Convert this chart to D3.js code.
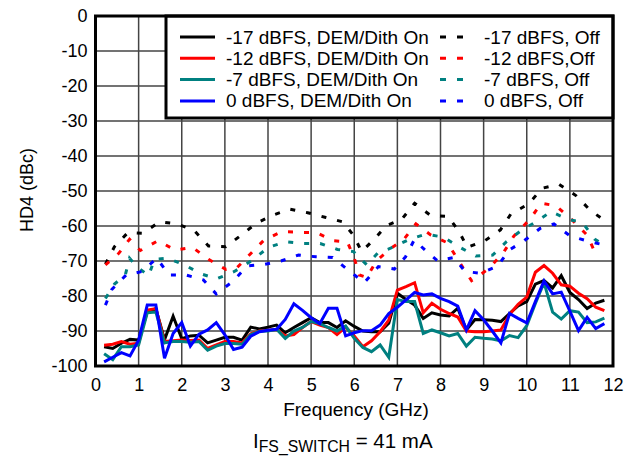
<!DOCTYPE html>
<html><head><meta charset="utf-8">
<script src="https://cdn.jsdelivr.net/npm/d3@7"></script>
<style>body{margin:0;background:#fff}svg{display:block}text{font-family:"Liberation Sans",Arial,sans-serif;fill:#000}</style>
</head><body><svg id="c" width="641" height="466"></svg>
<script>
const freqOn = [0.2,0.4,0.6,0.8,1.0,1.2,1.4,1.6,1.8,2.0,2.2,2.4,2.6,2.8,3.0,3.2,3.4,3.6,3.8,4.0,4.2,4.4,4.6,4.8,5.0,5.2,5.4,5.6,5.8,6.0,6.2,6.4,6.6,6.8,7.0,7.2,7.4,7.6,7.8,8.0,8.2,8.4,8.6,8.8,9.0,9.2,9.4,9.6,9.8,10.0,10.2,10.4,10.6,10.8,11.0,11.2,11.4,11.6,11.8];
const on17 = [-94.5,-95,-93.5,-92.4,-92.6,-84.5,-83.6,-92.5,-85.8,-92.2,-91.4,-91.2,-93.4,-92.6,-91.8,-91.8,-92.6,-88.9,-89.4,-88.9,-88.3,-90.5,-89,-87.6,-86.2,-87.6,-87.6,-89,-87.1,-88.7,-90,-90.2,-90.2,-87.8,-79.2,-81,-82.6,-86.4,-84.8,-85.4,-85.7,-83.5,-89.7,-86.7,-86.8,-86.9,-87.3,-85,-82.8,-81.6,-76.6,-75.6,-77.7,-74.2,-79,-81,-83.6,-82,-81.2];
const on12 = [-94.1,-93.8,-93,-93.8,-93.5,-84,-83.6,-93,-92.8,-92.6,-92.7,-92.6,-95,-94,-93,-93,-93.4,-90.8,-90,-89.8,-89.5,-91.4,-91,-89,-87.3,-88.3,-89,-91,-88.9,-91.4,-94.5,-92.8,-90.2,-86.9,-78.3,-77.3,-76.2,-84.8,-82.1,-83.8,-85,-86,-90,-90.2,-90.2,-90,-89.7,-85.3,-82.4,-80.3,-73.2,-71.3,-73.5,-76.8,-77.2,-79.2,-80.8,-83.2,-84.2];
const on7 = [-96.5,-98.2,-94.5,-94.5,-94,-84.8,-84.6,-93.4,-93,-93,-93.2,-93,-95.5,-94.3,-93.6,-93.6,-93.8,-91,-90.1,-90,-89.5,-92.1,-90,-89,-87.3,-87.9,-89,-90,-88.6,-92.1,-94.7,-95.9,-94,-97.5,-81,-81.6,-81.6,-90.7,-89.7,-90.5,-91.4,-90.7,-94.3,-91.8,-92.1,-92.3,-92.8,-91.3,-91.9,-88.5,-82.1,-76.2,-84.6,-86.6,-84.2,-84.6,-87.6,-87.4,-86.3];
const on0 = [-98.8,-97.5,-96.2,-97.1,-92.6,-82.6,-82.6,-97.8,-90.7,-87.6,-94.3,-90.9,-89.7,-87.6,-91.1,-95.3,-94.6,-91.5,-90.2,-89.8,-89.5,-86.7,-82.2,-84.1,-86.2,-87.9,-83.5,-83.5,-91.4,-90.5,-89.9,-89.9,-88.3,-85,-83.2,-81.1,-79,-79.7,-79.4,-80.7,-81.6,-82.9,-89.7,-84.2,-86.8,-90,-93.4,-85,-86.4,-87.7,-81.6,-75.7,-79.4,-78.9,-84.3,-89.9,-86.1,-89.3,-87.9];

const off17 = [[0.23,-70.9],[0.44,-65.9],[0.75,-61.9],[1.09,-62.1],[1.49,-58.8],[1.89,-59.4],[2.29,-61.3],[2.62,-65.7],[3.02,-65.9],[3.35,-62.9],[3.73,-59.2],[4.11,-56.9],[4.51,-55.2],[4.92,-56.2],[5.32,-57.5],[5.73,-58.8],[5.98,-62.6],[6.17,-67.3],[6.47,-63.7],[6.74,-59.9],[7.1,-58.1],[7.4,-53.5],[7.77,-57],[8.18,-57.3],[8.44,-61.8],[8.62,-66.1],[9.03,-64.2],[9.39,-61.1],[9.63,-56.6],[10.04,-53.7],[10.36,-49.2],[10.75,-48.1],[11.14,-51.3],[11.48,-55.6],[11.77,-58.1]];
const off12 = [[0.23,-71.1],[0.54,-67.8],[0.79,-63.8],[1.04,-67],[1.45,-64.2],[1.85,-66.9],[2.25,-66.1],[2.62,-69.5],[3.02,-72.4],[3.29,-71.8],[3.59,-68],[3.91,-64],[4.32,-61.6],[4.72,-61.8],[5.12,-61.9],[5.52,-64.2],[5.84,-64.5],[6.0,-69.2],[6.12,-74],[6.29,-74.7],[6.52,-69.9],[6.85,-66.4],[7.15,-63.8],[7.43,-59.4],[7.78,-62.6],[8.16,-64.8],[8.54,-72.3],[8.72,-75.6],[9.11,-72.3],[9.46,-67.6],[9.7,-62.9],[10.07,-58.1],[10.34,-53.5],[10.67,-54.2],[11.04,-58.1],[11.4,-62.6],[11.6,-68]];
const off7 = [[0.23,-80.7],[0.44,-76.6],[0.69,-74],[0.79,-69.2],[0.96,-71.6],[1.23,-74.2],[1.37,-69.5],[1.67,-69.2],[2.06,-71.1],[2.45,-73.7],[2.81,-75.1],[3.22,-73],[3.62,-69.9],[4.01,-66.1],[4.41,-64.5],[4.81,-65],[5.21,-65],[5.61,-66.7],[5.98,-67.3],[6.29,-71.1],[6.54,-67.8],[6.89,-66.1],[7.28,-63.8],[7.66,-62.3],[8.07,-63.2],[8.45,-66.1],[8.82,-68.6],[9.21,-68.3],[9.53,-64.5],[9.87,-61.3],[10.24,-58.6],[10.56,-55.9],[10.96,-58.1],[11.29,-59],[11.58,-63.8],[11.8,-65.5]];
const off0 = [[0.23,-82.6],[0.38,-78.1],[0.71,-74],[1.08,-73],[1.42,-69.2],[1.71,-74],[2.1,-74],[2.5,-75.4],[2.8,-79.4],[3.18,-75.9],[3.52,-71.4],[3.9,-71],[4.3,-70],[4.71,-68.3],[5.11,-68.8],[5.5,-69],[5.84,-72.4],[6.23,-76.2],[6.56,-71.6],[6.93,-72.3],[7.19,-68.8],[7.39,-64],[7.68,-67.3],[7.93,-69.9],[8.31,-69],[8.57,-73],[8.93,-73.5],[9.33,-71.4],[9.59,-66.9],[9.94,-64.2],[10.31,-60.7],[10.63,-59.4],[11.01,-62.9],[11.41,-64.3],[11.79,-65.4]];

const xTicks = [0,1,2,3,4,5,6,7,8,9,10,11,12];
const yTicks = [0,-10,-20,-30,-40,-50,-60,-70,-80,-90,-100];
const onLabels = ["-17 dBFS, DEM/Dith On","-12 dBFS, DEM/Dith On","-7 dBFS, DEM/Dith On","0 dBFS, DEM/Dith On"];
const offLabels = ["-17 dBFS, Off","-12 dBFS,Off","-7 dBFS, Off","0 dBFS, Off"];
const colors = ["#000000","#ff0000","#008080","#0000ff"];

const svg = d3.select("#c");
const L=95.5, R=613, T=16, B=366;
const x = d3.scaleLinear().domain([0,12]).range([L,R]);
const y = d3.scaleLinear().domain([-100,0]).range([B,T]);

// grid
svg.append("g").selectAll("line").data(xTicks.slice(1,-1)).join("line")
  .attr("x1",d=>x(d)).attr("x2",d=>x(d)).attr("y1",T).attr("y2",B)
  .attr("stroke","#444").attr("stroke-width",1.5);
svg.append("g").selectAll("line").data(yTicks.slice(1,-1)).join("line")
  .attr("x1",L).attr("x2",R).attr("y1",d=>y(d)).attr("y2",d=>y(d))
  .attr("stroke","#444").attr("stroke-width",1.5);

// axes labels
const ya = svg.append("g").attr("transform",`translate(${L},0)`)
  .call(d3.axisLeft(y).tickValues(yTicks).tickSize(0).tickPadding(8).tickFormat(d=>d));
ya.select(".domain").remove();
ya.selectAll("text").style("font-size","18px").attr("font-family",null);
const xa = svg.append("g").attr("transform",`translate(0,${B})`)
  .call(d3.axisBottom(x).tickValues(xTicks).tickSize(0).tickPadding(12).tickFormat(d=>d));
xa.select(".domain").remove();
xa.selectAll("text").style("font-size","18px").attr("font-family",null);

const lineOn = d3.line().x((d,i)=>x(freqOn[i])).y(d=>y(d));
const lineOff = d3.line().x(d=>x(d[0])).y(d=>y(d[1]));
svg.append("clipPath").attr("id","pc").append("rect").attr("x",L).attr("y",T).attr("width",R-L).attr("height",B-T);
const g = svg.append("g").attr("clip-path","url(#pc)");
[off17,off12,off7,off0].forEach((s,i)=>{
  g.append("path").attr("d",lineOff(s)).attr("fill","none").attr("stroke",colors[i])
   .attr("stroke-width",3).attr("stroke-dasharray","5,11");
});
[on17,on12,on7,on0].forEach((s,i)=>{
  g.append("path").attr("d",lineOn(s)).attr("fill","none").attr("stroke",colors[i])
   .attr("stroke-width",3).attr("stroke-linejoin","miter");
});

// legend
const lg = svg.append("g");
lg.append("rect").attr("x",166).attr("y",T).attr("width",R-166).attr("height",102)
  .attr("fill","#fff").attr("stroke","#000").attr("stroke-width",3);
onLabels.forEach((t,i)=>{
  const cy = 37 + i*21.3;
  lg.append("line").attr("x1",180).attr("x2",215).attr("y1",cy).attr("y2",cy).attr("stroke",colors[i]).attr("stroke-width",3);
  lg.append("text").attr("x",226).attr("y",cy+6.5).style("font-size","19px").text(t);
  lg.append("line").attr("x1",440).attr("x2",463).attr("y1",cy).attr("y2",cy).attr("stroke",colors[i]).attr("stroke-width",3).attr("stroke-dasharray","6,11");
  lg.append("text").attr("x",484).attr("y",cy+6.5).style("font-size","19px").text(offLabels[i]);
});

// frame
svg.append("rect").attr("x",L).attr("y",T).attr("width",R-L).attr("height",B-T)
  .attr("fill","none").attr("stroke","#000").attr("stroke-width",3);

// titles
svg.append("text").attr("x",356).attr("y",416).attr("text-anchor","middle").style("font-size","19px").text("Frequency (GHz)");
svg.append("text").attr("transform","translate(33,190) rotate(-90)").attr("text-anchor","middle").style("font-size","18px").text("HD4 (dBc)");
const st = svg.append("text").attr("x",253).attr("y",448).attr("text-anchor","start").style("font-size","20.5px");
st.append("tspan").text("I");
st.append("tspan").attr("dy",4).style("font-size","15.8px").text("FS_SWITCH");
st.append("tspan").attr("dy",-4).text(" = 41 mA");
</script></body></html>
